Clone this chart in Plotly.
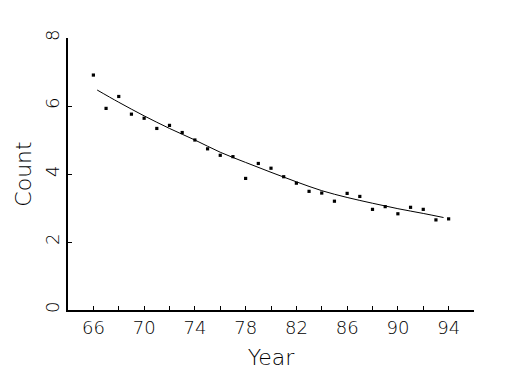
import plotly.graph_objects as go

years = list(range(66, 95))
counts = [6.91, 5.93, 6.28, 5.76, 5.64, 5.34, 5.43, 5.22, 5.00, 4.74,
          4.55, 4.51, 3.87, 4.31, 4.17, 3.92, 3.73, 3.49, 3.44, 3.20,
          3.43, 3.34, 2.96, 3.04, 2.83, 3.02, 2.96, 2.65, 2.68]

fit_x = [66.3, 68, 70, 72, 74, 76, 78, 80, 82, 84, 86, 88, 90, 92, 93.6]
fit_y = [6.47, 6.11, 5.71, 5.34, 5.00, 4.64, 4.34, 4.05, 3.77, 3.51, 3.31, 3.14, 2.98, 2.84, 2.72]

x_major = [66, 70, 74, 78, 82, 86, 90, 94]
x_minor = [68, 72, 76, 80, 84, 88, 92, 96]
y_ticks = [0, 2, 4, 6, 8]

FONT = "DejaVu Sans"
W = 200

fig = go.Figure()
fig.add_trace(go.Scatter(x=fit_x, y=fit_y, mode="lines",
                         line=dict(color="black", width=1, shape="spline"),
                         showlegend=False, hoverinfo="skip"))
fig.add_trace(go.Scatter(x=years, y=counts, mode="markers",
                         marker=dict(symbol="square", size=3.2, color="black"),
                         showlegend=False))

fig.update_layout(
    width=517, height=367,
    margin=dict(l=60, r=51, t=30, b=65),
    paper_bgcolor="white", plot_bgcolor="white",
    font=dict(family=FONT, color="black", size=17, weight=W),
    xaxis=dict(
        range=[64, 96], tickvals=x_major, ticktext=[str(v) for v in x_major],
        ticks="inside", ticklen=4, tickwidth=1, tickcolor="black",
        minor=dict(tickvals=x_minor, ticks="inside", ticklen=4, tickwidth=1, tickcolor="black"),
        showline=True, linecolor="black", linewidth=2, showgrid=False, zeroline=False,
        automargin=False,
        tickfont=dict(family=FONT, size=18, color="black", weight=W),
        title=dict(text="Year", font=dict(family=FONT, size=22, color="black", weight=W), standoff=13),
    ),
    yaxis=dict(
        range=[0, 8], tickvals=y_ticks, tickangle=-90,
        ticks="inside", ticklen=4, tickwidth=1, tickcolor="black",
        showline=True, linecolor="black", linewidth=2, showgrid=False, zeroline=False,
        automargin=False,
        tickfont=dict(family=FONT, size=18, color="black", weight=W),
        title=dict(text="Count", font=dict(family=FONT, size=22, color="black", weight=W), standoff=4),
    ),
)

fig.write_html("out.html")
